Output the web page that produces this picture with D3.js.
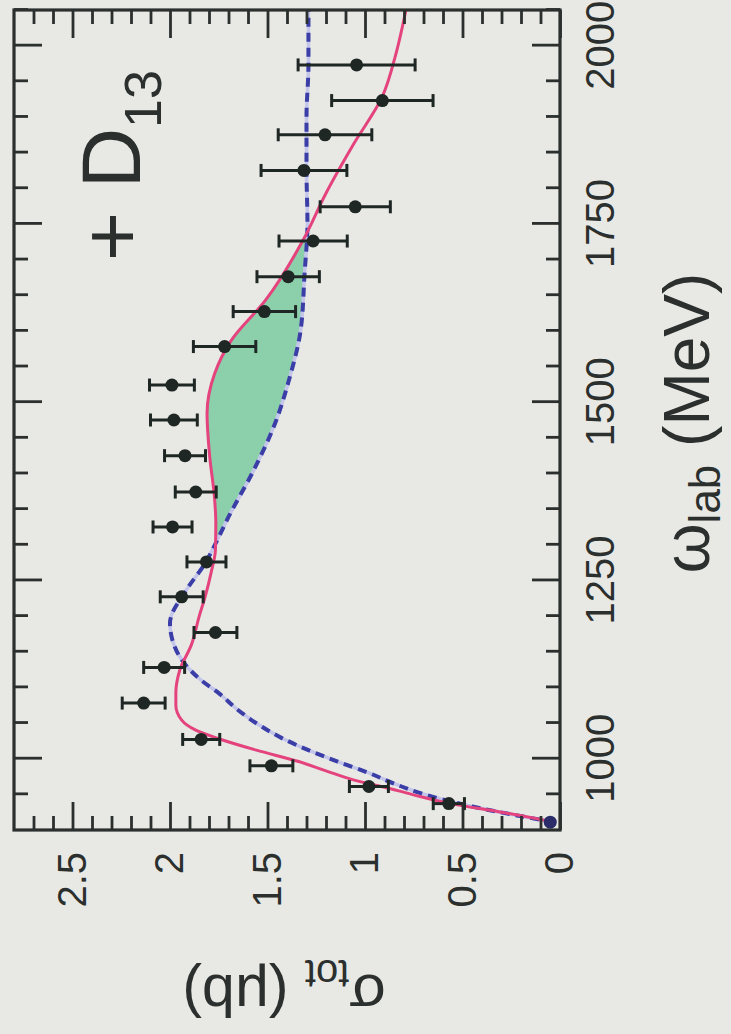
<!DOCTYPE html>
<html>
<head>
<meta charset="utf-8">
<script src="https://cdn.jsdelivr.net/npm/d3@7"></script>
<style>
  html, body { margin: 0; padding: 0; background: #e8e9e4; }
  svg { display: block; }
  text { font-family: "Liberation Sans", Arial, Helvetica, sans-serif; fill: #2b2f2d; }
</style>
</head>
<body>
<svg id="chart" width="731" height="1034"></svg>
<script>
// ---------------- data ----------------
const omegaData = [911, 937, 961, 990, 1027, 1078, 1128, 1177, 1227, 1276, 1325, 1374, 1425, 1475, 1524, 1578, 1627, 1676, 1726, 1774, 1825, 1875, 1923, 1973];
const sigmaData = [0.05, 0.57, 0.98, 1.48, 1.84, 2.135, 2.03, 1.767, 1.94, 1.813, 1.987, 1.868, 1.923, 1.98, 1.99, 1.72, 1.516, 1.394, 1.266, 1.05, 1.313, 1.205, 0.911, 1.043];
const sigmaErr  = [0.0, 0.08, 0.10, 0.11, 0.095, 0.11, 0.105, 0.11, 0.11, 0.10, 0.10, 0.105, 0.105, 0.12, 0.115, 0.16, 0.16, 0.16, 0.175, 0.18, 0.22, 0.24, 0.26, 0.30];

// full model (with D13) - solid pink
const omegaFull = [911, 925, 937, 950, 960, 970, 983, 996, 1012, 1028, 1040, 1054, 1075, 1092, 1124, 1160, 1200, 1227, 1260, 1293, 1330, 1367, 1423, 1484, 1541, 1585, 1643, 1727, 1793, 1863, 1928, 1990, 2050];
const sigmaFull = [0.03, 0.30, 0.56, 0.76, 0.90, 1.055, 1.20, 1.34, 1.557, 1.75, 1.868, 1.94, 1.97, 1.97, 1.95, 1.89, 1.85, 1.82, 1.79, 1.767, 1.765, 1.772, 1.796, 1.81, 1.77, 1.69, 1.51, 1.318, 1.20, 1.056, 0.912, 0.84, 0.79];

// model without D13 - dashed blue
const omegaNoD = [911, 933, 952, 965, 980, 996, 1012, 1028, 1045, 1068, 1092, 1110, 1135, 1160, 1190, 1237, 1274, 1311, 1339, 1405, 1471, 1531, 1601, 1680, 1750, 1825, 1900, 1973, 2050];
const sigmaNoD = [0.03, 0.45, 0.72, 0.85, 0.98, 1.14, 1.29, 1.42, 1.53, 1.65, 1.75, 1.84, 1.93, 1.98, 2.0, 1.915, 1.82, 1.75, 1.70, 1.57, 1.46, 1.39, 1.33, 1.31, 1.295, 1.30, 1.30, 1.29, 1.29];

// shaded D13 contribution range
const fillRange = [1290, 1760];

// axes
const omegaDomain = [900, 2050];
const sigmaDomain = [0, 2.8];
const omegaTicksMajor = [1000, 1250, 1500, 1750, 2000];
const omegaTickLabels = ["1000", "1250", "1500", "1750", "2000"];
const sigmaTicksMajor = [0, 0.5, 1, 1.5, 2, 2.5];
const sigmaTickLabels = ["0", "0.5", "1", "1.5", "2", "2.5"];
const omegaMinorStep = 50;
const sigmaMinorStep = 0.1;

// ---------------- layout ----------------
const W = 820, H = 546;          // unrotated plot frame
const originX = 14, originY = 830; // screen position of the (rotated) frame corner

const svg = d3.select("#chart");
svg.append("rect").attr("width", 731).attr("height", 1034).attr("fill", "#e8e9e4");

const g = svg.append("g").attr("transform", `translate(${originX},${originY}) rotate(-90)`);

const x = d3.scaleLinear().domain(omegaDomain).range([0, W]);
const y = d3.scaleLinear().domain(sigmaDomain).range([H, 0]);

const omegaMinor = d3.range(950, 2051, omegaMinorStep).filter(v => !omegaTicksMajor.includes(v));
const sigmaMinor = d3.range(1, 28).map(i => +(i * sigmaMinorStep).toFixed(1)).filter(v => !sigmaTicksMajor.includes(v));

const defs = svg.append("defs");
defs.append("clipPath").attr("id", "plotClip")
  .append("rect").attr("x", 0).attr("y", 0).attr("width", W).attr("height", H);

const aboveNoD = d3.area().curve(d3.curveMonotoneX)
  .x(d => x(d[0])).y0(d => y(d[1])).y1(0);
const noDPts = omegaNoD.map((o, i) => [o, sigmaNoD[i]]);
const fullPts = omegaFull.map((o, i) => [o, sigmaFull[i]]);
defs.append("clipPath").attr("id", "aboveClip")
  .append("path").attr("d", aboveNoD(noDPts));
defs.append("clipPath").attr("id", "rangeClip")
  .append("rect").attr("x", x(fillRange[0])).attr("y", 0)
  .attr("width", x(fillRange[1]) - x(fillRange[0])).attr("height", H);

const plot = g.append("g").attr("clip-path", "url(#plotClip)");

const underFull = d3.area().curve(d3.curveMonotoneX)
  .x(d => x(d[0])).y0(H).y1(d => y(d[1]));
plot.append("g").attr("clip-path", "url(#rangeClip)")
  .append("path")
  .attr("clip-path", "url(#aboveClip)")
  .attr("d", underFull(fullPts))
  .attr("fill", "#8bd0ab");

const line = d3.line().curve(d3.curveMonotoneX).x(d => x(d[0])).y(d => y(d[1]));

// dashed blue (no D13)
plot.append("path").attr("d", line(noDPts))
  .attr("fill", "none").attr("stroke", "#c3c5ea").attr("stroke-width", 3.5);
plot.append("path").attr("d", line(noDPts))
  .attr("fill", "none").attr("stroke", "#3a3ea6").attr("stroke-width", 4)
  .attr("stroke-dasharray", "9,6");

// solid pink (full)
plot.append("path").attr("d", line(fullPts))
  .attr("fill", "none").attr("stroke", "#e4437d").attr("stroke-width", 3);

// data with error bars
const pts = omegaData.map((o, i) => ({ o, s: sigmaData[i], e: sigmaErr[i] }));
const eb = g.append("g").attr("stroke", "#1f2725").attr("stroke-width", 3);
pts.filter(d => d.e > 0).forEach(d => {
  eb.append("line").attr("x1", x(d.o)).attr("x2", x(d.o)).attr("y1", y(d.s - d.e)).attr("y2", y(d.s + d.e));
  eb.append("line").attr("x1", x(d.o) - 6.5).attr("x2", x(d.o) + 6.5).attr("y1", y(d.s - d.e)).attr("y2", y(d.s - d.e));
  eb.append("line").attr("x1", x(d.o) - 6.5).attr("x2", x(d.o) + 6.5).attr("y1", y(d.s + d.e)).attr("y2", y(d.s + d.e));
});
g.append("g").selectAll("circle").data(pts).join("circle")
  .attr("cx", d => x(d.o)).attr("cy", d => y(d.s)).attr("r", 6.5)
  .attr("fill", d => d.o < 920 ? "#2a2d6a" : "#1f2725");

// ---------------- axes ----------------
function styleAxis(sel) {
  sel.select(".domain").remove();
  sel.selectAll(".tick line").attr("stroke", "#2b2f2d").attr("stroke-width", 2.8);
  sel.selectAll(".tick text").attr("font-size", 40).attr("fill", "#2b2f2d")
    .style("font-family", "'Liberation Sans', Arial, Helvetica, sans-serif");
}
g.append("g").attr("transform", `translate(0,${H})`)
  .call(d3.axisBottom(x).tickValues(omegaTicksMajor).tickSize(-28).tickPadding(26)
    .tickFormat((d, i) => omegaTickLabels[i]))
  .call(styleAxis);
g.append("g").attr("transform", `translate(0,${H})`)
  .call(d3.axisBottom(x).tickValues(omegaMinor).tickSize(-14).tickFormat(""))
  .call(styleAxis);
g.append("g")
  .call(d3.axisTop(x).tickValues(omegaTicksMajor).tickSize(-28).tickFormat(""))
  .call(styleAxis);
g.append("g")
  .call(d3.axisTop(x).tickValues(omegaMinor).tickSize(-14).tickFormat(""))
  .call(styleAxis);
g.append("g")
  .call(d3.axisLeft(y).tickValues(sigmaTicksMajor).tickSize(-28).tickPadding(22)
    .tickFormat((d, i) => sigmaTickLabels[i]))
  .call(styleAxis);
g.append("g")
  .call(d3.axisLeft(y).tickValues(sigmaMinor).tickSize(-14).tickFormat(""))
  .call(styleAxis);
g.append("g").attr("transform", `translate(${W},0)`)
  .call(d3.axisRight(y).tickValues(sigmaTicksMajor).tickSize(-28).tickFormat(""))
  .call(styleAxis);
g.append("g").attr("transform", `translate(${W},0)`)
  .call(d3.axisRight(y).tickValues(sigmaMinor).tickSize(-14).tickFormat(""))
  .call(styleAxis);

// frame
g.append("rect").attr("x", 0).attr("y", 0).attr("width", W).attr("height", H)
  .attr("fill", "none").attr("stroke", "#2b2f2d").attr("stroke-width", 3.2);

// ---------------- labels ----------------
const lbl = g.append("text").attr("x", 569).attr("y", 126).attr("font-size", 84);
lbl.append("tspan").text("+ D");
lbl.append("tspan").attr("font-size", 52).attr("dy", 21).text("13");

const xt = g.append("text").attr("x", W / 2 - 3).attr("y", H + 149)
  .attr("text-anchor", "middle").attr("font-size", 64);
xt.append("tspan").text("ω");
xt.append("tspan").attr("font-size", 44).attr("dy", 11).text("lab");
xt.append("tspan").attr("dy", -11).text(" (MeV)");

const yt = g.append("text")
  .attr("transform", `translate(-145,${H / 2 - 3}) rotate(-90)`)
  .attr("text-anchor", "middle").attr("font-size", 59);
yt.append("tspan").text("σ");
yt.append("tspan").attr("font-size", 40).attr("dy", 15).text("tot");
yt.append("tspan").attr("dy", -15).text(" (μb)");
</script>
</body>
</html>
